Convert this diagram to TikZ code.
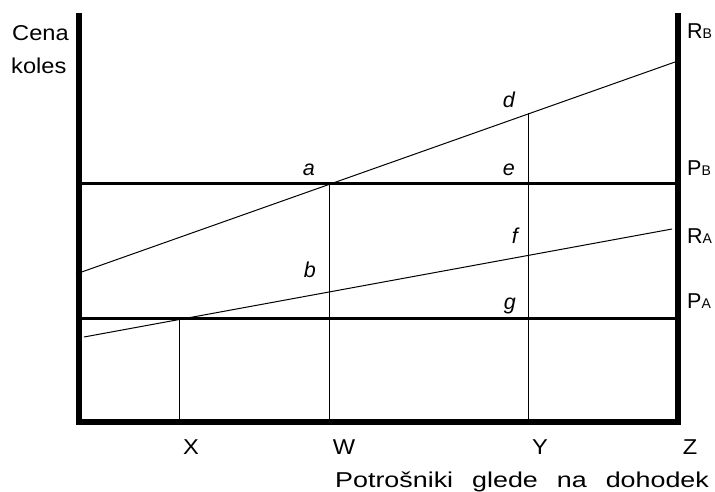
\documentclass[tikz,border=0pt]{standalone}
\usepackage{fontspec}
\setmainfont{Liberation Sans}[FakeStretch=1.1]
\newfontfamily\widefont{Liberation Sans}[FakeStretch=1.25]
\newfontfamily\plainfont{Liberation Sans}
\usetikzlibrary{calc}

\newcommand{\gap}{\hspace{19pt}}
\newcommand{\idx}[1]{{\fontsize{14}{14}\selectfont #1}}

\begin{document}
\begin{tikzpicture}[
    x=1pt, y=-1pt,
    font=\fontsize{21.5}{24}\selectfont,
    axis/.style={line width=6pt},
    price/.style={line width=3pt},
    thin/.style={line width=1pt},
    lbl/.style={inner sep=0pt},
    pt/.style={lbl, anchor=base east, font=\fontsize{21.5}{24}\selectfont\plainfont\itshape},
    side/.style={lbl, anchor=base west},
    level/.style={side, font=\fontsize{21.5}{24}\selectfont\plainfont},
    tick/.style={lbl, anchor=base}
]
\useasboundingbox (0,0) rectangle (715,491);

% Frame corners
\coordinate (top L) at (79,13);
\coordinate (top R) at (678,13);
\coordinate (bot L) at (79,422);
\coordinate (bot R) at (678,422);

% Price levels and demand lines
\coordinate (PB L) at (79,183);
\coordinate (PB R) at (678,183);
\coordinate (PA L) at (79,318);
\coordinate (PA R) at (678,318);
\coordinate (RB start) at (76,274);
\coordinate (RB end) at (675,62);
\coordinate (RA start) at (84,337);
\coordinate (RA end) at (672,229);

% Points on the lines
\coordinate (x top) at (179,318);
\coordinate (x bot) at (179,422);
\coordinate (w top) at (329,183);
\coordinate (w bot) at (329,422);
\coordinate (y top) at (528,113);
\coordinate (y bot) at (528,422);

% Axes
\draw[axis] (top L) -- (bot L);
\draw[axis] (top R) -- (bot R);
\draw[axis] ([xshift=-3pt]bot L) -- ([xshift=3pt]bot R);

% Prices
\draw[price] (PB L) -- (PB R);
\draw[price] (PA L) -- (PA R);

% Demand lines
\draw[thin] (RB start) -- (RB end);
\draw[thin] (RA start) -- (RA end);

% Verticals
\draw[thin] (x top) -- (x bot);
\draw[thin] (w top) -- (w bot);
\draw[thin] (y top) -- (y bot);

% Axis titles
\node[side] (cena) at (12,40) {Cena};
\node[side] (koles) at (11,73) {koles};
\node[side, font=\fontsize{21.5}{24}\selectfont\widefont] (potr) at (335,487)
  {Potrošniki\gap glede\gap na\gap dohodek};

% Right side labels
\node[level] (RB) at (687,38) {R\idx{B}};
\node[level] (PB) at (687,175) {P\idx{B}};
\node[level] (RA) at (687,243) {R\idx{A}};
\node[level] (PA) at (687,308) {P\idx{A}};

% Bottom labels
\node[tick] (X) at (191,454) {X};
\node[tick] (W) at (344,454) {W};
\node[tick] (Y) at (540,454) {Y};
\node[tick] (Z) at (690,454) {Z};

% Point labels
\node[pt] (a) at (315,175) {a};
\node[pt] (b) at (316,277) {b};
\node[pt] (d) at (515,107) {d};
\node[pt] (e) at (515,175) {e};
\node[pt] (f) at (518,243) {f};
\node[pt] (g) at (516,309) {g};
\end{tikzpicture}
\end{document}
